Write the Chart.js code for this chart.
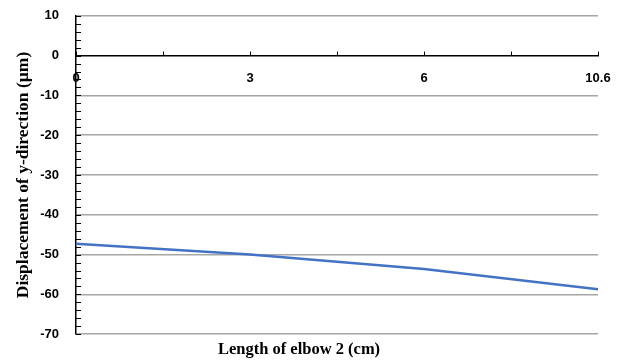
<!DOCTYPE html>
<html>
<head>
<meta charset="utf-8">
<script src="https://cdn.jsdelivr.net/npm/chart.js@4"></script>
<style>
    body { margin: 0; background: #fff; }
    #wrap { width: 629px; height: 363px; overflow: hidden; }
    #inner { width: 629px; height: 372px; margin-top: -9px; }
</style>
</head>
<body>
<div id="wrap"><div id="inner"><canvas id="elbowChart"></canvas></div></div>
<script>
// data
const lengths = ['0', '3', '6', '10.6'];
const displacement = [-47.3, -50.0, -53.6, -58.7];
const yTicks = [10, 0, -10, -20, -30, -40, -50, -60, -70];

const ctx = document.getElementById('elbowChart').getContext('2d');

// small tick marks: every 2 on the y axis, half steps on the x axis
const minorTicks = {
    id: 'minorTicks',
    beforeDatasetsDraw(chart) {
        const { ctx, scales: { x, y } } = chart;
        ctx.save();
        ctx.strokeStyle = '#000';
        ctx.lineWidth = 1;
        ctx.beginPath();
        for (let v = yTicks[yTicks.length - 1]; v <= yTicks[0]; v += 2) {
            const py = Math.round(y.getPixelForValue(v)) + 0.5;
            ctx.moveTo(x.left, py);
            ctx.lineTo(x.left + 5, py);
        }
        const y0 = y.getPixelForValue(0);
        for (let i = 0; i <= 2 * (lengths.length - 1); i++) {
            const px = Math.round(x.getPixelForValue(i / 2)) + 0.5;
            ctx.moveTo(px, y0);
            ctx.lineTo(px, y0 - 4);
        }
        ctx.stroke();
        ctx.restore();
    }
};

new Chart(ctx, {
    type: 'line',
    data: {
        labels: lengths,
        datasets: [{
            data: displacement,
            borderColor: '#4472c4',
            borderWidth: 2.5,
            pointRadius: 0,
            tension: 0,
            clip: false
        }]
    },
    options: {
        responsive: true,
        maintainAspectRatio: false,
        animation: false,
        layout: {
            padding: { top: 0, right: 31, left: 0, bottom: 0 }
        },
        scales: {
            x: {
                type: 'category',
                offset: false,
                position: { y: 0 },
                grid: { display: false, drawTicks: false },
                border: { display: true, color: '#000', width: 1.5 },
                ticks: {
                    color: '#000',
                    padding: 15,
                    maxRotation: 0,
                    autoSkip: false,
                    font: { family: '"Liberation Sans", Arial, sans-serif', size: 13, weight: 'bold' }
                }
            },
            y: {
                min: -70,
                max: 10,
                afterFit(scale) { scale.width = 76; },
                afterBuildTicks(scale) { scale.ticks = yTicks.map(v => ({ value: v })); },
                grid: {
                    drawTicks: false,
                    color: (c) => c.tick && c.tick.value === 0 ? 'rgba(0,0,0,0)' : '#a6a6a6',
                    lineWidth: 1.5
                },
                border: { display: true, color: '#000', width: 1.5 },
                ticks: {
                    color: '#000',
                    padding: 17,
                    font: { family: '"Liberation Sans", Arial, sans-serif', size: 13, weight: 'bold' }
                },
                title: {
                    display: true,
                    text: 'Displacement of y-direction (µm)',
                    color: '#000',
                    padding: { top: 13, bottom: 0 },
                    font: { family: '"Liberation Serif", "Times New Roman", serif', size: 17.5, weight: 'bold' }
                }
            }
        },
        plugins: {
            legend: { display: false },
            tooltip: { enabled: false },
            title: {
                display: true,
                position: 'bottom',
                text: 'Length of elbow 2 (cm)',
                color: '#000',
                padding: { top: 6, bottom: 3 },
                font: { family: '"Liberation Serif", "Times New Roman", serif', size: 16.5, weight: 'bold' }
            }
        }
    },
    plugins: [minorTicks]
});
</script>
</body>
</html>
